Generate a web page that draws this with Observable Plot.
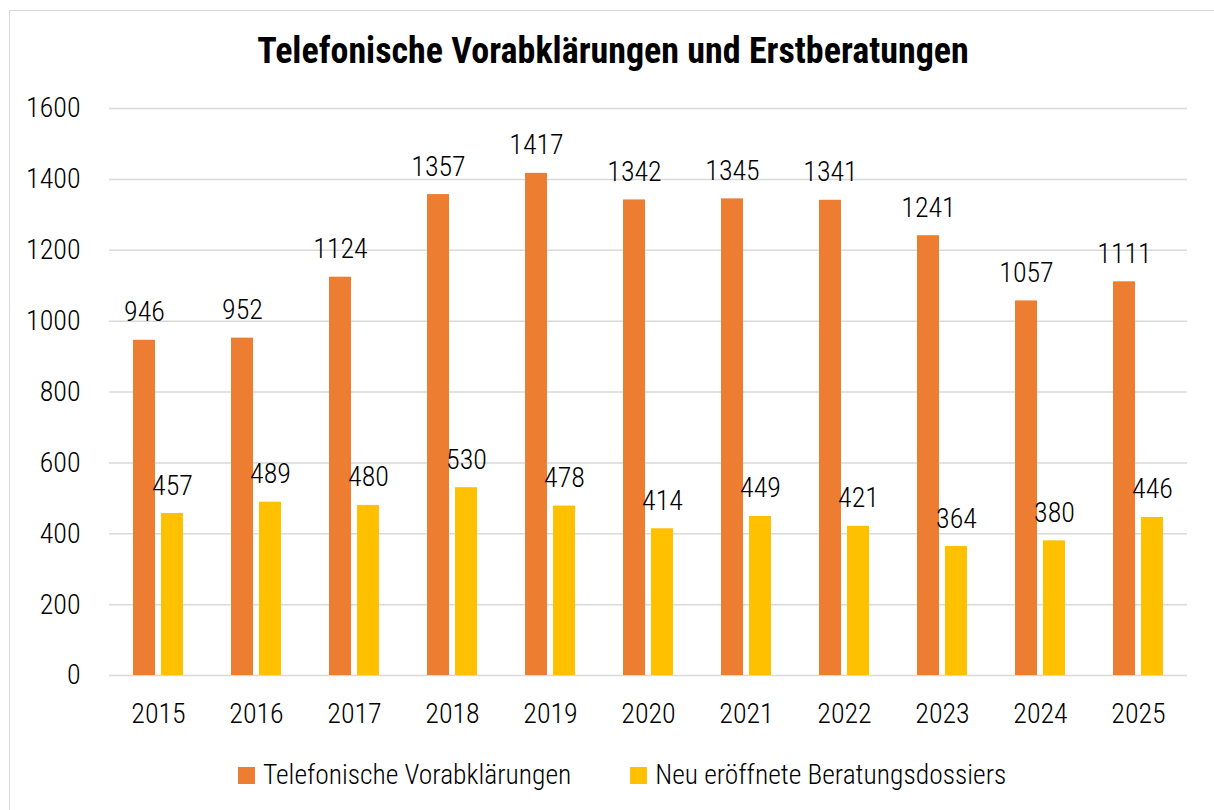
<!DOCTYPE html>
<html>
<head>
<meta charset="utf-8">
<script src="https://cdn.jsdelivr.net/npm/d3@7"></script>
<script src="https://cdn.jsdelivr.net/npm/@observablehq/plot@0.6"></script>
<style>
  html, body { margin: 0; padding: 0; background: #fff; }
  body { width: 1214px; height: 810px; position: relative; overflow: hidden;
         font-family: "Roboto Condensed", "Liberation Sans Narrow", "DejaVu Sans Condensed", "Arial Narrow", sans-serif; color: #000; }
  #frame { position: absolute; left: 9px; top: 10px; width: 1300px; height: 900px; border: 1.5px solid #d9d9d9; box-sizing: border-box; }
  #title { position: absolute; left: 0; width: 1226px; top: 33px; text-align: center; font-weight: bold; font-size: 36px; line-height: 36px; white-space: nowrap; }
  #chart { position: absolute; left: 0; top: 80px; }
  #legend { position: absolute; left: 238px; top: 758px; display: flex; gap: 59px; font-size: 27.5px; line-height: 34px; font-weight: 300; }
  .item { display: flex; align-items: center; gap: 8px; white-space: nowrap; }
  .sw { width: 17px; height: 17px; display: inline-block; }
</style>
</head>
<body>
<div id="frame"></div>
<div id="title">Telefonische Vorabklärungen und Erstberatungen</div>
<div id="chart"></div>
<div id="legend"></div>
<script>
const years = ["2015","2016","2017","2018","2019","2020","2021","2022","2023","2024","2025"];
const seriesNames = ["Telefonische Vorabklärungen", "Neu eröffnete Beratungsdossiers"];
const telefonisch = [946, 952, 1124, 1357, 1417, 1342, 1345, 1341, 1241, 1057, 1111];
const dossiers = [457, 489, 480, 530, 478, 414, 449, 421, 364, 380, 446];
const colors = ["#ED7D31", "#FFC000"];
const yTicks = [0, 200, 400, 600, 800, 1000, 1200, 1400, 1600];

const data = [];
years.forEach((yr, i) => {
  data.push({year: yr, series: seriesNames[0], value: telefonisch[i]});
  data.push({year: yr, series: seriesNames[1], value: dossiers[i]});
});

const font = '"Roboto Condensed", "Liberation Sans Narrow", "DejaVu Sans Condensed", "Arial Narrow", sans-serif';

const chart = Plot.plot({
  width: 1214,
  height: 660,
  marginTop: 28,
  marginBottom: 65,
  marginLeft: 106,
  marginRight: 24,
  style: {fontFamily: font, fontSize: "28px", fontWeight: 300, color: "#000", background: "transparent"},
  fx: {domain: years, padding: 0, axis: "bottom", tickSize: 0, tickPadding: 28, label: null},
  x: {domain: seriesNames, paddingInner: 0.231, paddingOuter: 0.838, axis: null},
  y: {domain: [0, 1600], ticks: yTicks, tickSize: 0, tickPadding: 29, label: null, grid: false, tickFormat: d => String(d)},
  color: {domain: seriesNames, range: colors},
  marks: [
    Plot.ruleY(yTicks, {stroke: "#d9d9d9", strokeWidth: 1.5}),
    Plot.barY(data, {fx: "year", x: "series", y: "value", fill: "series"}),
    Plot.text(data, {fx: "year", x: "series", y: "value", text: d => String(d.value), lineAnchor: "bottom", dy: -19, fill: "#000", fontSize: 28, fontWeight: 300})
  ]
});
document.getElementById("chart").appendChild(chart);

const legend = document.getElementById("legend");
seriesNames.forEach((name, i) => {
  const item = document.createElement("div");
  item.className = "item";
  const sw = document.createElement("span");
  sw.className = "sw";
  sw.style.background = colors[i];
  const t = document.createElement("span");
  t.textContent = name;
  item.appendChild(sw);
  item.appendChild(t);
  legend.appendChild(item);
});
</script>
</body>
</html>
